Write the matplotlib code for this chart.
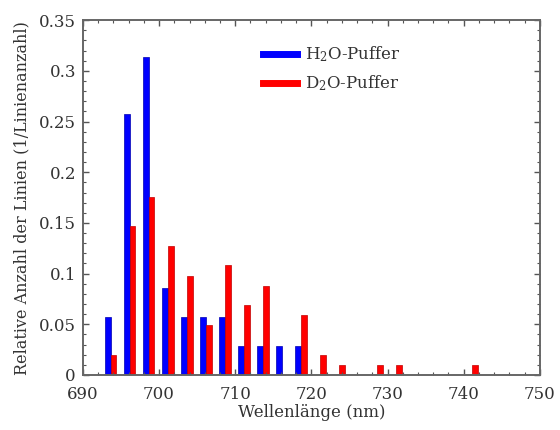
import numpy as np
import matplotlib
matplotlib.use('Agg')
import matplotlib.pyplot as plt
from matplotlib.lines import Line2D
from matplotlib.ticker import MultipleLocator

plt.rcParams['font.family'] = 'DejaVu Serif'
plt.rcParams['mathtext.fontset'] = 'dejavuserif'

# --- data: bin centres (nm) and relative counts ---
wavelength = [693.75, 696.25, 698.75, 701.25, 703.75, 706.25, 708.75, 711.25,
              713.75, 716.25, 718.75, 721.25, 723.75, 726.25, 728.75, 731.25,
              733.75, 736.25, 738.75, 741.25]
h2o = [0.057, 0.257, 0.314, 0.086, 0.057, 0.057, 0.057, 0.029,
       0.029, 0.029, 0.029, 0, 0, 0, 0, 0, 0, 0, 0, 0]
d2o = [0.020, 0.147, 0.176, 0.127, 0.098, 0.049, 0.108, 0.069,
       0.088, 0, 0.059, 0.020, 0.010, 0, 0.010, 0.010, 0, 0, 0, 0.010]

labels = ['H$_2$O-Puffer', 'D$_2$O-Puffer']
colors = ['#0000ff', '#ff0000']

x = np.array(wavelength)
w = 0.75

fig = plt.figure(figsize=(5.6, 4.3), dpi=100)
ax = fig.add_axes([0.148, 0.128, 0.816, 0.825])

ax.bar(x - w / 2 - 0.1, h2o, width=w, color=colors[0], edgecolor='#0000b0', lw=0.5)
ax.bar(x + w / 2 - 0.1, d2o, width=w, color=colors[1], edgecolor='#c00000', lw=0.5)

ax.set_xlim(690, 750)
ax.set_ylim(0, 0.35)
ax.xaxis.set_major_locator(MultipleLocator(10))
ax.xaxis.set_minor_locator(MultipleLocator(2))
ax.yaxis.set_minor_locator(MultipleLocator(0.01))
ax.set_yticks(np.arange(0, 0.351, 0.05))
ax.set_yticklabels(['0', '0.05', '0.1', '0.15', '0.2', '0.25', '0.3', '0.35'])

txt = '#333333'
ax.tick_params(which='both', direction='in', top=True, right=True,
               colors='#555555', labelcolor=txt, labelsize=12)
ax.tick_params(which='major', length=4, width=1)
ax.tick_params(which='minor', length=2, width=0.8)
ax.tick_params(axis='x', pad=8)
ax.tick_params(axis='y', pad=5)
for s in ax.spines.values():
    s.set_color('#666666')
    s.set_linewidth(1.4)

ax.set_xlabel('Wellenlänge (nm)', fontsize=12, color=txt, labelpad=1)
ax.set_ylabel('Relative Anzahl der Linien (1/Linienanzahl)', fontsize=11.5,
              color=txt, labelpad=6)

handles = [Line2D([], [], color=c, lw=5) for c in colors]
ax.legend(handles, labels, loc='upper left', bbox_to_anchor=(0.38, 0.95),
          frameon=False, fontsize=12, handlelength=2.0, labelcolor=txt,
          borderaxespad=0, handletextpad=0.5, labelspacing=0.55)

fig.savefig('out.png', dpi=100)
